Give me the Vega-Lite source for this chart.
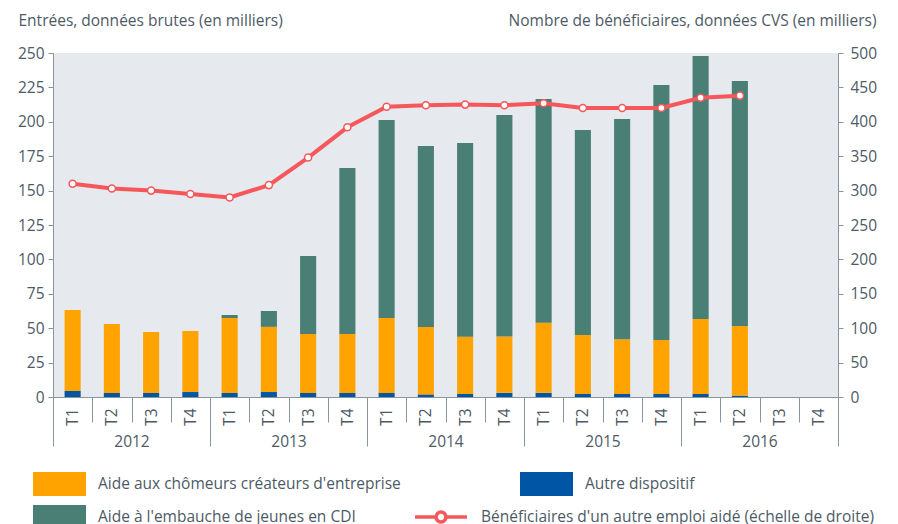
{
  "$schema": "https://vega.github.io/schema/vega-lite/v6.json",
  "width": 785,
  "height": 344,
  "autosize": {"type": "none"},
  "padding": {"left": 53, "top": 53, "right": 60, "bottom": 127},
  "background": "white",
  "config": {
    "view": {"fill": "#e6e9ee", "stroke": null},
    "font": "Open Sans",
    "axis": {
      "labelFont": "Open Sans", "labelFontSize": 15.5, "labelColor": "#4d5a66",
      "titleFont": "Open Sans", "titleFontSize": 15.5, "titleColor": "#4d5a66", "titleFontWeight": "normal",
      "domainColor": "#8a949c", "tickColor": "#8a949c", "grid": false
    },
    "legend": {"labelFont": "Open Sans", "labelFontSize": 15.5, "labelColor": "#4d5a66", "labelLimit": 500}
  },
  "datasets": {
    "main": [
      {"key": "2012 T1", "a_autre": 4.4, "b_createurs": 58.8, "c_jeunes": 0, "benef": 310},
      {"key": "2012 T2", "a_autre": 2.9, "b_createurs": 50.1, "c_jeunes": 0, "benef": 303},
      {"key": "2012 T3", "a_autre": 2.9, "b_createurs": 44.3, "c_jeunes": 0, "benef": 300},
      {"key": "2012 T4", "a_autre": 3.6, "b_createurs": 44.4, "c_jeunes": 0, "benef": 295},
      {"key": "2013 T1", "a_autre": 2.9, "b_createurs": 54.5, "c_jeunes": 2.2, "benef": 290},
      {"key": "2013 T2", "a_autre": 3.6, "b_createurs": 47.4, "c_jeunes": 11.5, "benef": 308},
      {"key": "2013 T3", "a_autre": 2.9, "b_createurs": 42.9, "c_jeunes": 56.7, "benef": 348},
      {"key": "2013 T4", "a_autre": 2.9, "b_createurs": 42.9, "c_jeunes": 120.6, "benef": 392},
      {"key": "2014 T1", "a_autre": 2.9, "b_createurs": 54.5, "c_jeunes": 143.9, "benef": 422},
      {"key": "2014 T2", "a_autre": 1.9, "b_createurs": 49.0, "c_jeunes": 131.5, "benef": 424},
      {"key": "2014 T3", "a_autre": 2.2, "b_createurs": 41.6, "c_jeunes": 140.8, "benef": 425},
      {"key": "2014 T4", "a_autre": 3.0, "b_createurs": 41.0, "c_jeunes": 161.0, "benef": 424},
      {"key": "2015 T1", "a_autre": 3.0, "b_createurs": 51.0, "c_jeunes": 162.6, "benef": 427},
      {"key": "2015 T2", "a_autre": 2.2, "b_createurs": 42.8, "c_jeunes": 149.0, "benef": 420},
      {"key": "2015 T3", "a_autre": 2.2, "b_createurs": 39.8, "c_jeunes": 160.0, "benef": 420},
      {"key": "2015 T4", "a_autre": 2.2, "b_createurs": 39.2, "c_jeunes": 185.3, "benef": 420},
      {"key": "2016 T1", "a_autre": 2.2, "b_createurs": 54.5, "c_jeunes": 191.1, "benef": 435},
      {"key": "2016 T2", "a_autre": 1.0, "b_createurs": 50.6, "c_jeunes": 178.1, "benef": 438},
      {"key": "2016 T3", "a_autre": null, "b_createurs": null, "c_jeunes": null, "benef": null},
      {"key": "2016 T4", "a_autre": null, "b_createurs": null, "c_jeunes": null, "benef": null}
    ],
    "years": [
      {"year": "2012"}, {"year": "2013"}, {"year": "2014"}, {"year": "2015"}, {"year": "2016"}
    ]
  },
  "layer": [
    {
      "data": {"name": "main"},
      "transform": [{"fold": ["a_autre", "b_createurs", "c_jeunes"], "as": ["serie", "valeur"]}],
      "mark": {"type": "bar", "width": {"band": 0.41}},
      "encoding": {
        "x": {
          "field": "key", "type": "nominal", "sort": null,
          "scale": {"type": "band", "paddingInner": 0, "paddingOuter": 0,
            "domain": ["2012 T1","2012 T2","2012 T3","2012 T4","2013 T1","2013 T2","2013 T3","2013 T4","2014 T1","2014 T2","2014 T3","2014 T4","2015 T1","2015 T2","2015 T3","2015 T4","2016 T1","2016 T2","2016 T3","2016 T4"]},
          "axis": {"orient": "bottom", "title": null, "labelExpr": "split(datum.value, ' ')[1]", "labelAngle": 270, "labelAlign": "right", "labelBaseline": "middle", "tickBand": "extent", "tickSize": 25, "labelPadding": -14}
        },
        "y": {
          "field": "valeur", "type": "quantitative", "stack": "zero",
          "scale": {"domain": [0, 250], "nice": false},
          "axis": {"orient": "left", "values": [0,25,50,75,100,125,150,175,200,225,250], "tickSize": 5, "labelPadding": 4,
            "title": "Entrées, données brutes (en milliers)", "titleAngle": 0, "titleAlign": "left", "titleBaseline": "middle", "titleX": -35, "titleY": -33}
        },
        "color": {
          "field": "serie", "type": "nominal",
          "scale": {"domain": ["b_createurs", "a_autre", "c_jeunes"], "range": ["#ffa300", "#0055a4", "#4a7f76"]},
          "legend": {
            "title": null, "orient": "none", "direction": "horizontal", "legendX": -3.5, "legendY": 421, "columns": 2, "columnPadding": 118, "rowPadding": 9,
            "symbolType": "M-2.65,-1.2H2.65V1.2H-2.65Z", "symbolSize": 400, "symbolStrokeWidth": 0, "labelOffset": 28.5,
            "labelExpr": "datum.value == 'b_createurs' ? \"Aide aux chômeurs créateurs d'entreprise\" : datum.value == 'a_autre' ? 'Autre dispositif' : \"Aide à l'embauche de jeunes en CDI\""
          }
        },
        "order": {"field": "serie", "sort": "ascending"}
      }
    },
    {
      "data": {"name": "main"},
      "mark": {"type": "line", "strokeWidth": 4, "point": {"filled": true, "fill": "white", "strokeWidth": 1.5, "size": 50}},
      "encoding": {
        "x": {
          "field": "key", "type": "nominal", "sort": null,
          "scale": {"type": "band", "paddingInner": 0, "paddingOuter": 0,
            "domain": ["2012 T1","2012 T2","2012 T3","2012 T4","2013 T1","2013 T2","2013 T3","2013 T4","2014 T1","2014 T2","2014 T3","2014 T4","2015 T1","2015 T2","2015 T3","2015 T4","2016 T1","2016 T2","2016 T3","2016 T4"]},
          "axis": null
        },
        "y": {
          "field": "benef", "type": "quantitative",
          "scale": {"domain": [0, 500], "nice": false},
          "axis": {"orient": "right", "values": [0,50,100,150,200,250,300,350,400,450,500], "tickSize": 5, "labelPadding": 7,
            "title": "Nombre de bénéficiaires, données CVS (en milliers)", "titleAngle": 0, "titleAlign": "right", "titleBaseline": "middle", "titleX": 38, "titleY": -33}
        },
        "stroke": {
          "datum": "Bénéficiaires d'un autre emploi aidé (échelle de droite)",
          "scale": {"range": ["#f5575a"]},
          "legend": {
            "title": null, "orient": "none", "legendX": 360, "legendY": 436,
            "symbolType": "M-1,0H-0.19M0.19,0H1M-0.19,0A0.19,0.19 0 1,0 0.19,0A0.19,0.19 0 1,0 -0.19,0",
            "symbolSize": 2704, "symbolStrokeWidth": 3.5, "symbolFillColor": "white", "labelOffset": 12
          }
        }
      }
    },
    {
      "data": {"name": "years"},
      "mark": {"type": "point", "opacity": 0},
      "encoding": {
        "x": {
          "field": "year", "type": "ordinal",
          "scale": {"type": "band", "paddingInner": 0, "paddingOuter": 0},
          "axis": {"orient": "bottom", "title": null, "labelAngle": 0, "labelAlign": "center", "labelBaseline": "top", "tickBand": "extent", "tickSize": 49, "labelPadding": -12, "domain": false}
        }
      }
    }
  ],
  "resolve": {"scale": {"x": "independent", "y": "independent", "color": "independent"}}
}
